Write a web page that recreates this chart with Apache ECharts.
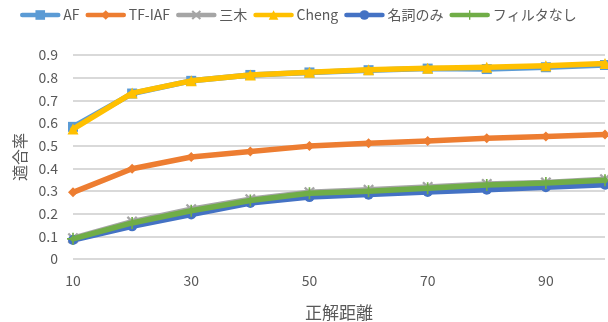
<!DOCTYPE html>
<html>
<head>
<meta charset="utf-8">
<script src="https://cdn.jsdelivr.net/npm/echarts@6/dist/echarts.min.js"></script>
<style>
  html, body { margin: 0; padding: 0; background: #fff; }
  #chart { width: 608px; height: 322px; }
</style>
</head>
<body>
<div id="chart"></div>
<script>
// 正解距離ごとの適合率
const distances = ['10', '20', '30', '40', '50', '60', '70', '80', '90', '100'];
const seriesNames = ['AF', 'TF-IAF', '三木', 'Cheng', '名詞のみ', 'フィルタなし'];
const af        = [0.583, 0.730, 0.786, 0.812, 0.823, 0.833, 0.840, 0.838, 0.846, 0.856];
const tfIaf     = [0.294, 0.398, 0.450, 0.474, 0.498, 0.511, 0.521, 0.533, 0.540, 0.549];
const miki      = [0.092, 0.165, 0.220, 0.264, 0.295, 0.305, 0.318, 0.331, 0.338, 0.352];
const cheng     = [0.573, 0.732, 0.786, 0.812, 0.824, 0.835, 0.842, 0.846, 0.853, 0.863];
const nounsOnly = [0.084, 0.144, 0.196, 0.247, 0.273, 0.284, 0.296, 0.306, 0.317, 0.328];
const noFilter  = [0.089, 0.159, 0.213, 0.258, 0.290, 0.299, 0.312, 0.326, 0.335, 0.347];

const colors  = ['#5B9BD5', '#ED7D31', '#A5A5A5', '#FFC000', '#4472C4', '#70AD47'];
const symbols = [
  'rect',
  'diamond',
  'path://M0,1.5L1.5,0L5,3.5L8.5,0L10,1.5L6.5,5L10,8.5L8.5,10L5,6.5L1.5,10L0,8.5L3.5,5Z',
  'triangle',
  'circle',
  'path://M4.3,0H5.7V4.3H10V5.7H5.7V10H4.3V5.7H0V4.3H4.3Z'
];
const symbolSizes = [10, 10, 11, 11, 10, 12];
const values = [af, tfIaf, miki, cheng, nounsOnly, noFilter];

const font = '"Noto Sans CJK JP", "Noto Sans", sans-serif';
const textGray = '#595959';

const chart = echarts.init(document.getElementById('chart'));
chart.setOption({
  animation: false,
  color: colors,
  textStyle: { fontFamily: font },
  legend: {
    top: 3,
    left: 15,
    itemWidth: 36,
    itemHeight: 12,
    itemGap: 6,
    lineStyle: { width: 4.5 },
    textStyle: { color: textGray, fontSize: 14, fontFamily: font },
    data: seriesNames
  },
  grid: { left: 73, right: 3, top: 55, bottom: 63, outerBoundsMode: 'none', containLabel: false },
  xAxis: {
    type: 'category',
    data: distances,
    boundaryGap: false,
    name: '正解距離',
    nameLocation: 'middle',
    nameGap: 45,
    nameTextStyle: { color: textGray, fontSize: 17, fontFamily: font },
    axisLine: { show: false },
    axisTick: { show: false },
    axisLabel: { interval: 1, color: textGray, fontSize: 14, margin: 15, fontFamily: font }
  },
  yAxis: {
    type: 'value',
    min: 0,
    max: 0.9,
    interval: 0.1,
    name: '適合率',
    nameLocation: 'middle',
    nameGap: 43,
    nameTextStyle: { color: textGray, fontSize: 16, fontFamily: font },
    axisLine: { show: false },
    axisTick: { show: false },
    splitLine: { lineStyle: { color: '#D9D9D9', width: 2 } },
    axisLabel: {
      color: textGray, fontSize: 14, margin: 15, fontFamily: font,
      formatter: v => (v === 0 ? '0' : v.toFixed(1))
    }
  },
  series: seriesNames.map((name, i) => ({
    name: name,
    type: 'line',
    data: values[i],
    symbol: symbols[i],
    symbolSize: symbolSizes[i],
    showAllSymbol: true,
    lineStyle: { width: 5.5, color: colors[i], cap: 'round', join: 'round' },
    itemStyle: { color: colors[i] },
    z: 2 + i
  }))
});
</script>
</body>
</html>
